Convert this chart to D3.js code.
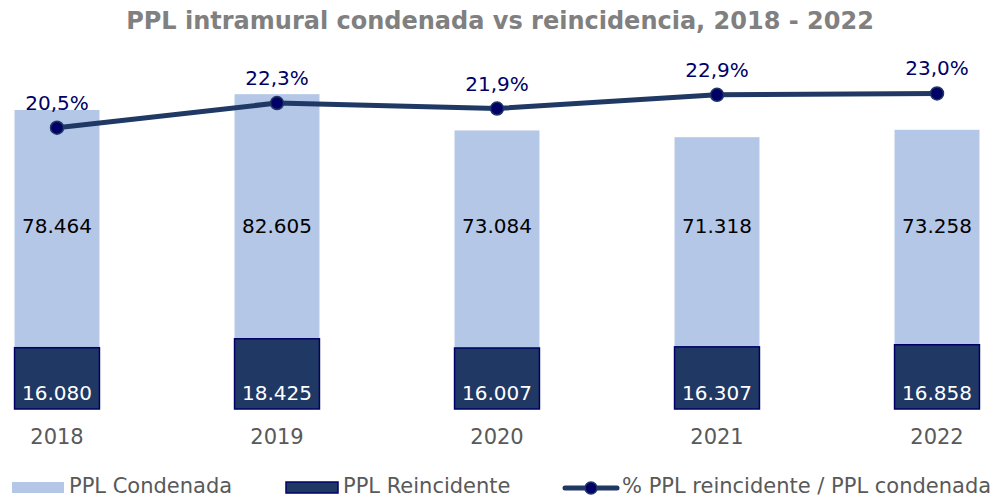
<!DOCTYPE html>
<html>
<head>
<meta charset="utf-8">
<script src="https://cdn.jsdelivr.net/npm/d3@7"></script>
<style>
  body { margin: 0; background: #fff; }
  svg text { font-family: Verdana, "DejaVu Sans", sans-serif; }
</style>
</head>
<body>
<div id="chart"></div>
<script>
var years = ["2018", "2019", "2020", "2021", "2022"]
var condenada = [78464, 82605, 73084, 71318, 73258]
var reincidente = [16080, 18425, 16007, 16307, 16858]
var pct = [20.5, 22.3, 21.9, 22.9, 23.0]

var colors = {}
colors.light = "#b4c7e7"
colors.dark = "#1f3864"
colors.edge = "#000066"
colors.gray = "#595959"

var width = 1005, height = 498
var fmt = d3.format(",")
function num(v) { return fmt(v).replace(/,/g, ".") }
function perc(v) { return v.toFixed(1).replace(".", ",") + "%" }

var svg = d3.select("#chart").append("svg")
  .attr("width", width)
  .attr("height", height)

var x = d3.scaleBand()
  .domain(years)
  .range([-53, 1047])
  .paddingInner(0.614)
  .paddingOuter(0.307)

var y = d3.scaleLinear().domain([0, 90000]).range([409, 66])
var y2 = d3.scaleLinear().domain([0, 25]).range([409, 66])

svg.append("text")
  .attr("x", 500).attr("y", 29)
  .attr("text-anchor", "middle")
  .attr("font-size", 24)
  .attr("font-weight", "bold")
  .attr("fill", "#808080")
  .text("PPL intramural condenada vs reincidencia, 2018 - 2022")

// light bars (behind)
svg.selectAll("rect.cond")
  .data(condenada)
  .enter().append("rect")
  .attr("class", "cond")
  .attr("x", (d, i) => x(years[i]))
  .attr("width", x.bandwidth())
  .attr("y", d => y(d))
  .attr("height", d => y(0) - y(d))
  .attr("fill", colors.light)

// dark bars
svg.selectAll("rect.rein")
  .data(reincidente)
  .enter().append("rect")
  .attr("class", "rein")
  .attr("x", (d, i) => x(years[i]))
  .attr("width", x.bandwidth())
  .attr("y", d => y(d))
  .attr("height", d => y(0) - y(d))
  .attr("fill", colors.dark)
  .attr("stroke", colors.edge)
  .attr("stroke-width", 1.5)

// labels
svg.selectAll("text.cl")
  .data(condenada)
  .enter().append("text")
  .attr("class", "cl")
  .attr("x", (d, i) => x(years[i]) + x.bandwidth() / 2)
  .attr("y", 226)
  .attr("dy", "0.35em")
  .attr("text-anchor", "middle")
  .attr("font-size", 20)
  .attr("fill", "#000")
  .text(d => num(d))

svg.selectAll("text.rl")
  .data(reincidente)
  .enter().append("text")
  .attr("class", "rl")
  .attr("x", (d, i) => x(years[i]) + x.bandwidth() / 2)
  .attr("y", y(0) - 16)
  .attr("dy", "0.35em")
  .attr("text-anchor", "middle")
  .attr("font-size", 20)
  .attr("fill", "#fff")
  .text(d => num(d))

// x axis labels
svg.selectAll("text.yr")
  .data(years)
  .enter().append("text")
  .attr("class", "yr")
  .attr("x", d => x(d) + x.bandwidth() / 2)
  .attr("y", 437)
  .attr("dy", "0.35em")
  .attr("text-anchor", "middle")
  .attr("font-size", 21)
  .attr("fill", colors.gray)
  .text(d => d)

// line
var line = d3.line()
  .x((d, i) => x(years[i]) + x.bandwidth() / 2)
  .y(d => y2(d))

svg.append("path")
  .datum(pct)
  .attr("d", line)
  .attr("fill", "none")
  .attr("stroke", colors.dark)
  .attr("stroke-width", 5)
  .attr("stroke-linejoin", "round")

svg.selectAll("circle.pt")
  .data(pct)
  .enter().append("circle")
  .attr("class", "pt")
  .attr("cx", (d, i) => x(years[i]) + x.bandwidth() / 2)
  .attr("cy", d => y2(d))
  .attr("r", 6.5)
  .attr("fill", colors.edge)
  .attr("stroke", colors.dark)
  .attr("stroke-width", 1.5)

svg.selectAll("text.pl")
  .data(pct)
  .enter().append("text")
  .attr("class", "pl")
  .attr("x", (d, i) => x(years[i]) + x.bandwidth() / 2)
  .attr("y", d => y2(d) - 25)
  .attr("dy", "0.35em")
  .attr("text-anchor", "middle")
  .attr("font-size", 20)
  .attr("fill", colors.edge)
  .text(d => perc(d))

// legend
var lg = svg.append("g").attr("font-size", 21).attr("fill", colors.gray)
lg.append("rect").attr("x", 12).attr("y", 482).attr("width", 52).attr("height", 11).attr("fill", colors.light)
lg.append("text").attr("x", 69).attr("y", 486).attr("dy", "0.35em").text("PPL Condenada")
lg.append("rect").attr("x", 286).attr("y", 482).attr("width", 52).attr("height", 11)
  .attr("fill", colors.dark).attr("stroke", colors.edge).attr("stroke-width", 1.5)
lg.append("text").attr("x", 343).attr("y", 486).attr("dy", "0.35em").text("PPL Reincidente")
lg.append("line").attr("x1", 565).attr("x2", 617).attr("y1", 488).attr("y2", 488)
  .attr("stroke", colors.dark).attr("stroke-width", 5).attr("stroke-linecap", "round")
lg.append("circle").attr("cx", 591).attr("cy", 488).attr("r", 6)
  .attr("fill", colors.edge).attr("stroke", colors.dark).attr("stroke-width", 1.5)
lg.append("text").attr("x", 622).attr("y", 486).attr("dy", "0.35em").text("% PPL reincidente / PPL condenada")
</script>
</body>
</html>
